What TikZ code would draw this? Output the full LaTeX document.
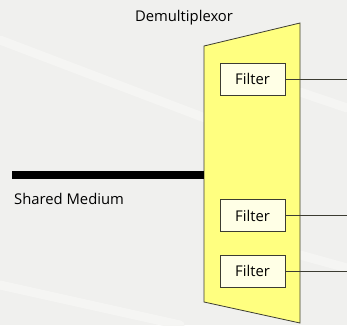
\documentclass[tikz,border=0pt]{standalone}
\usepackage{fontspec}
\setmainfont{Open Sans}
\definecolor{bgc}{RGB}{240,240,238}
\definecolor{streak}{RGB}{245,245,243}
\definecolor{demuxfill}{RGB}{255,255,128}
\definecolor{filterfill}{RGB}{255,255,230}
\definecolor{edgec}{RGB}{60,60,50}
\tikzset{
  filterbox/.style={draw=edgec, fill=filterfill, line width=0.8pt, minimum width=65pt, minimum height=32pt, inner sep=0pt, font=\fontsize{14.8}{17}\selectfont},
  outline/.style={draw=edgec, line width=0.8pt},
  label/.style={font=\fontsize{14.8}{17}\selectfont, inner sep=0pt},
  streakline/.style={draw=streak, line width=9pt, line cap=round}
}
\begin{document}
\begin{tikzpicture}[x=1pt,y=-1pt]
\fill[bgc] (0,0) rectangle (347,325);
\useasboundingbox (0,0) rectangle (347,325);
% faint background streaks
\draw[streakline] (0,40) -- (205,118);
\draw[streakline] (0,285) -- (180,325);
\draw[streakline] (300,92) -- (347,108);
\draw[streakline] (300,255) -- (347,268);
% demultiplexor body
\draw[outline, fill=demuxfill] (204,46) -- (300,23) -- (300,323) -- (204,302) -- cycle;
\coordinate (demuxin) at (204,175);
\coordinate (mediumend) at (12,175);
\draw[line width=8pt] (mediumend) -- (demuxin);
\node[label, anchor=center] (demuxlabel) at (184,18) {Demultiplexor};
\node[label, anchor=west] (mediumlabel) at (14,199) {Shared Medium};
% filters
\node[filterbox] (f1) at (252.5,79) {Filter};
\node[filterbox] (f2) at (252.5,215.5) {Filter};
\node[filterbox] (f3) at (252.5,271) {Filter};
\coordinate (o1) at (347,79);
\coordinate (o2) at (347,215.5);
\coordinate (o3) at (347,271);
\draw[draw=edgec, line width=0.8pt] (f1.east) -- (o1);
\draw[draw=edgec, line width=0.8pt] (f2.east) -- (o2);
\draw[draw=edgec, line width=0.8pt] (f3.east) -- (o3);
\end{tikzpicture}
\end{document}
